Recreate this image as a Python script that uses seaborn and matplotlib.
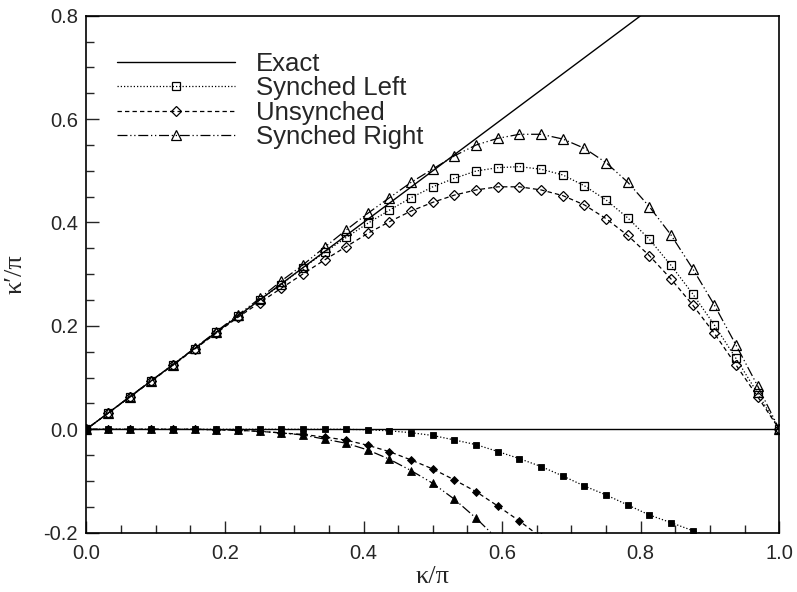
import numpy as np
import pandas as pd
import matplotlib
matplotlib.use("Agg")
import matplotlib.pyplot as plt
import seaborn as sns

# Wavenumber samples kappa/pi = j/32
kappa = [j / 32 for j in range(33)]

# Real part of the modified wavenumber
real_synched_left = [0.0, 0.031, 0.0625, 0.094, 0.125, 0.156, 0.1875, 0.219, 0.25, 0.280,
                     0.312, 0.342, 0.371, 0.3985, 0.424, 0.448, 0.469, 0.4855, 0.4996, 0.506,
                     0.508, 0.503, 0.492, 0.471, 0.4435, 0.409, 0.3675, 0.317, 0.262, 0.2017,
                     0.137, 0.0696, 0.0]
real_unsynched = [0.0, 0.031, 0.062, 0.093, 0.124, 0.155, 0.186, 0.2165, 0.245, 0.2727,
                  0.3004, 0.3275, 0.3532, 0.379, 0.4016, 0.4222, 0.439, 0.453, 0.463, 0.469,
                  0.469, 0.463, 0.452, 0.434, 0.4074, 0.375, 0.3358, 0.2907, 0.2404, 0.1857,
                  0.1244, 0.063, 0.0]
real_synched_right = [0.0, 0.031, 0.063, 0.094, 0.125, 0.157, 0.189, 0.221, 0.253, 0.2868,
                      0.3178, 0.352, 0.3855, 0.4178, 0.448, 0.4777, 0.5035, 0.529, 0.5499, 0.5628,
                      0.5706, 0.5706, 0.5615, 0.5435, 0.5157, 0.478, 0.4306, 0.3758, 0.3107, 0.2404,
                      0.163, 0.0838, 0.0]

# Imaginary part (dissipation)
imag_synched_left = [0.0, 0.0, 0.0, 0.0, 0.0, 0.0, 0.0, 0.0, 0.0, 0.0,
                     0.0, 0.0, 0.0, -0.001, -0.003, -0.0066, -0.012, -0.0207, -0.0297, -0.043,
                     -0.0568, -0.072, -0.0903, -0.1097, -0.127, -0.1464, -0.1658, -0.1806, -0.196, -0.211]
imag_unsynched = [0.0, 0.0, 0.0, 0.0, 0.0, 0.0, -0.001, -0.002, -0.004, -0.007,
                  -0.010, -0.015, -0.021, -0.031, -0.0433, -0.0594, -0.0768, -0.098, -0.1207, -0.1484,
                  -0.1774, -0.209]
imag_synched_right = [0.0, 0.0, 0.0, 0.0, 0.0, 0.0, -0.001, -0.002, -0.004, -0.007,
                      -0.011, -0.019, -0.027, -0.040, -0.058, -0.080, -0.1045, -0.1354, -0.172, -0.213]

exact_x = [0.0, 1.0]
exact_y = [0.0, 1.0]

x_major = [0.0, 0.2, 0.4, 0.6, 0.8, 1.0]
y_major = [-0.2, 0.0, 0.2, 0.4, 0.6, 0.8]

sns.set_style("white")
plt.rcParams["font.family"] = ["Liberation Sans", "DejaVu Sans"]
plt.rcParams["xtick.direction"] = "in"
plt.rcParams["ytick.direction"] = "in"

fig = plt.figure(figsize=(7.97, 5.92), dpi=100)
ax = fig.add_axes([0.1083, 0.1002, 0.8695, 0.8733])

lw = 0.9
dot_style = (0, (1, 1.6))
dash_style = (0, (3.5, 2.5))
dashdotdot_style = (0, (8, 2.2, 1, 2.2, 1, 2.2))

series = [
    ("Synched Left", real_synched_left, imag_synched_left, "s", dot_style, 5.2, 4.6),
    ("Unsynched", real_unsynched, imag_unsynched, "D", dash_style, 4.8, 4.4),
    ("Synched Right", real_synched_right, imag_synched_right, "^", dashdotdot_style, 7.0, 5.4),
]

# Exact relation kappa' = kappa
sns.lineplot(x=exact_x, y=exact_y, ax=ax, color="black", lw=1.0, label="Exact",
             estimator=None, sort=False)

for name, re_vals, im_vals, mk, ls, ms_open, ms_fill in series:
    df_re = pd.DataFrame({"k": kappa[:len(re_vals)], "v": re_vals})
    df_im = pd.DataFrame({"k": kappa[:len(im_vals)], "v": im_vals})
    sns.lineplot(data=df_re, x="k", y="v", ax=ax, color="black", lw=lw, linestyle=ls,
                 marker=mk, markersize=ms_open, markerfacecolor="none",
                 markeredgecolor="black", markeredgewidth=0.9, label=name,
                 estimator=None, sort=False)
    sns.lineplot(data=df_im, x="k", y="v", ax=ax, color="black", lw=lw, linestyle=ls,
                 marker=mk, markersize=ms_fill, markerfacecolor="black",
                 markeredgecolor="black", markeredgewidth=0.6, label="_nolegend_",
                 estimator=None, sort=False)

ax.axhline(0.0, color="black", lw=1.0, zorder=1)

ax.set_xlim(0, 1)
ax.set_ylim(-0.2, 0.8)
ax.set_xticks(x_major)
ax.set_xticks(np.arange(0, 1.001, 0.05), minor=True)
ax.set_yticks(y_major)
ax.set_yticks(np.arange(-0.2, 0.801, 0.05), minor=True)
ax.set_xticklabels([f"{v:.1f}" for v in x_major])
ax.set_yticklabels([f"{v:.1f}" for v in y_major])
ax.tick_params(axis="x", which="major", pad=8)
ax.tick_params(axis="y", which="major", pad=6)
ax.tick_params(which="major", length=9, width=1.0, labelsize=14.5,
               bottom=True, left=True, top=False, right=False)
ax.tick_params(which="minor", length=5.5, width=1.0,
               bottom=True, left=True, top=False, right=False)

for sp in ax.spines.values():
    sp.set_color("black")
    sp.set_linewidth(1.2)

ax.set_xlabel("κ/π", fontsize=19, family=["Liberation Serif", "DejaVu Serif"], labelpad=2)
ax.set_ylabel("κ′/π", fontsize=19, family=["Liberation Serif", "DejaVu Serif"], labelpad=12)

ax.legend(loc="upper left", bbox_to_anchor=(0.044, 0.93), frameon=False,
          fontsize=18.5, handlelength=4.6, handletextpad=0.8, labelspacing=0.02,
          borderaxespad=0, borderpad=0, numpoints=1)

fig.savefig("out.png", dpi=100)
